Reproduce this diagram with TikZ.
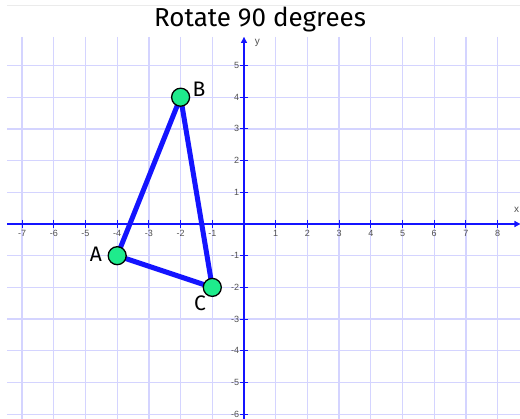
\documentclass[tikz,border=0pt]{standalone}
\usepackage{fontspec}
\setmainfont{Liberation Sans}
\newfontfamily\titlefont{Fira Sans}
\usetikzlibrary{arrows.meta}
\pgfdeclarelayer{bg}
\pgfdeclarelayer{mid}
\pgfsetlayers{bg,mid,main}
\definecolor{gridc}{RGB}{212,212,255}
\definecolor{axisc}{RGB}{20,20,255}
\definecolor{ptfill}{RGB}{30,235,140}
\definecolor{tickc}{RGB}{80,80,80}
\tikzset{
  gridline/.style={gridc, line width=1.3pt},
  axisline/.style={axisc, line width=2pt},
  tickmark/.style={axisc, line width=1pt},
  xlab/.style={font=\fontsize{9}{9}\selectfont, text=tickc, inner sep=0pt},
  ylab/.style={font=\fontsize{9}{9}\selectfont, text=tickc, inner sep=0pt, anchor=east},
  vertex/.style={circle, draw=black, line width=1.3pt, fill=ptfill, minimum size=18pt, inner sep=0pt},
  edge/.style={axisc, line width=5pt},
  ptlabel/.style={font=\titlefont\fontsize{21}{21}\selectfont, inner sep=0pt},
}
\begin{document}
\begin{tikzpicture}[x=1pt,y=1pt]
\useasboundingbox (0,0) rectangle (520,-419);
\begin{pgfonlayer}{bg}
\fill[white] (0,0) rectangle (520,-419);
\draw[black!8, line width=0.8pt] (7,-5) -- (520,-5);
\end{pgfonlayer}
\node[font=\titlefont\fontsize{26}{26}\selectfont] (title) at (260,-20) {Rotate 90 degrees};
\begin{scope}[shift={(244,-224)}, x=31.7pt, y=31.7pt]
  \begin{pgfonlayer}{bg}
    \foreach \i in {-6,...,5} \draw[gridline] (-7.475,\i) -- (8.72,\i);
    \foreach \i in {-7,...,8} \draw[gridline] (\i,5.9) -- (\i,-6.2);
    \draw[axisline, -{Triangle[length=6pt,width=6pt]}] (-7.475,0) -- (8.72,0);
    \draw[axisline, -{Triangle[length=6pt,width=6pt]}] (0,-6.2) -- (0,5.9);
    \foreach \i in {-7,...,-1,1,2,...,8} {
      \draw[tickmark] (\i,0.13) -- (\i,-0.13);
      \node[xlab] (xl\i) at (\i,-0.3) {\i};
    }
    \foreach \i in {-6,...,-1,1,2,...,5} {
      \draw[tickmark] (0.13,\i) -- (-0.13,\i);
      \node[ylab] (yl\i) at (-0.15,\i) {\i};
    }
    \node[font=\fontsize{10}{10}\selectfont, text=tickc] (xname) at (8.6,0.44) {x};
    \node[font=\fontsize{10}{10}\selectfont, text=tickc] (yname) at (0.42,5.7) {y};
  \end{pgfonlayer}
  \node[vertex] (A) at (-4,-1) {};
  \node[vertex] (B) at (-2,4) {};
  \node[vertex] (C) at (-1,-2) {};
  \begin{pgfonlayer}{mid}
    \draw[edge, line join=round] (A.center) -- (B.center) -- (C.center) -- cycle;
  \end{pgfonlayer}
  \node[ptlabel] (lA) at (-4.67,-0.95) {A};
  \node[ptlabel] (lB) at (-1.42,4.24) {B};
  \node[ptlabel] (lC) at (-1.39,-2.49) {C};
\end{scope}
\end{tikzpicture}
\end{document}
